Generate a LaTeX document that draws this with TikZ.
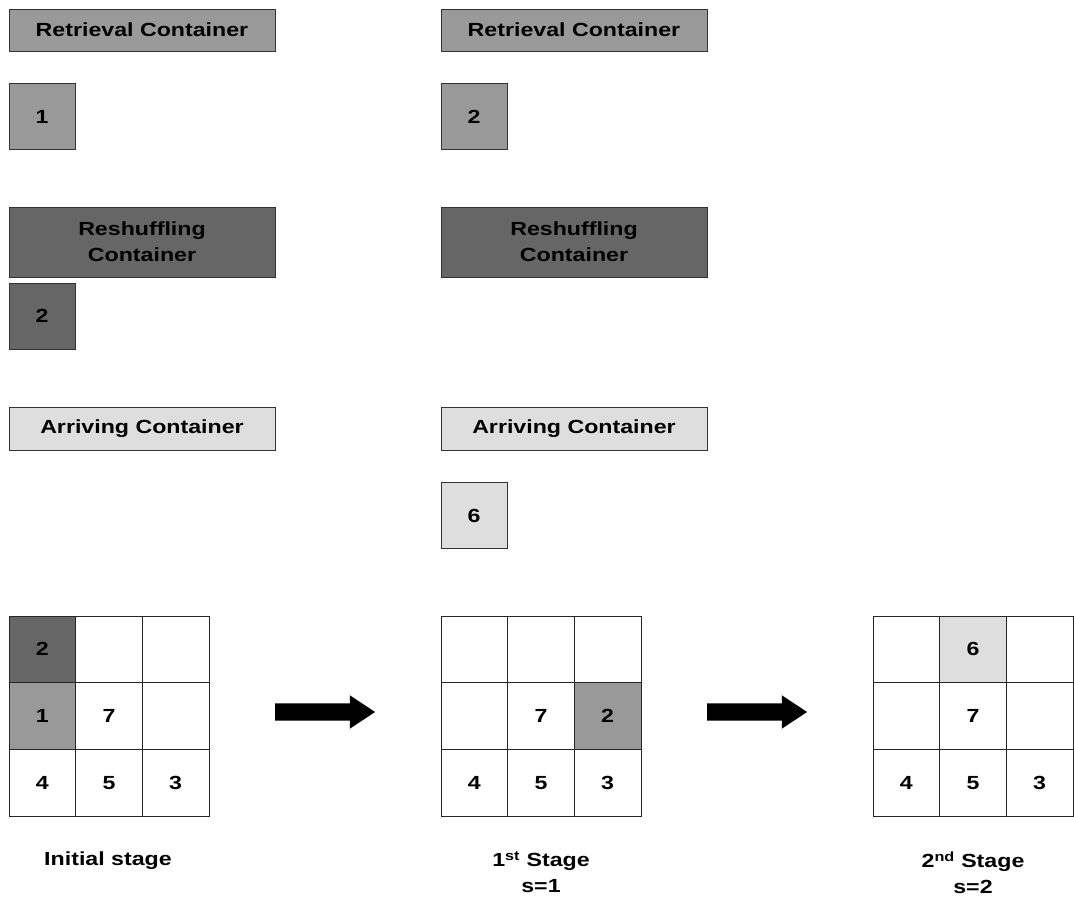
\documentclass[tikz,border=0pt]{standalone}
\usepackage{fontspec}
\setmainfont[FakeStretch=1.22]{Liberation Sans}
\usetikzlibrary{shapes.arrows}

\definecolor{retrgray}{gray}{0.6}
\definecolor{reshgray}{gray}{0.4}
\definecolor{arrvgray}{gray}{0.87}

\tikzset{
  labelbox/.style={draw=black!80, line width=0.8pt, minimum width=266pt, inner sep=0pt,
    align=center, font=\fontsize{19}{26}\selectfont\bfseries},
  cbox/.style={draw=black!80, line width=0.8pt, minimum size=66pt, inner sep=0pt,
    font=\fontsize{19}{20}\selectfont\bfseries},
  cell/.style={draw=black!85, line width=0.8pt, minimum size=66.67pt, inner sep=0pt,
    font=\fontsize{19}{20}\selectfont\bfseries},
  stagearrow/.style={single arrow, fill=black, minimum height=100pt, inner xsep=0pt,
    inner ysep=8.5pt, single arrow head extend=8pt, single arrow tip angle=67},
  stagetext/.style={align=center, font=\fontsize{19}{26}\selectfont\bfseries}
}

\begin{document}
\begin{tikzpicture}[x=1pt,y=-1pt]
  \useasboundingbox (0,0) rectangle (1074,904);

  % initial stage, containers
  \node[labelbox, fill=retrgray, minimum height=42pt] (retr0) at (142,30) {Retrieval Container};
  \node[cbox, fill=retrgray] (retrc0) at (42,116.5) {1};
  \node[labelbox, fill=reshgray, minimum height=70pt] (resh0) at (142,242) {Reshuffling\\Container};
  \node[cbox, fill=reshgray] (reshc0) at (42,316) {2};
  \node[labelbox, fill=arrvgray, minimum height=43pt] (arrv0) at (142,428.5) {Arriving Container};

  % first stage, containers
  \node[labelbox, fill=retrgray, minimum height=42pt] (retr1) at (574,30) {Retrieval Container};
  \node[cbox, fill=retrgray] (retrc1) at (474,116.5) {2};
  \node[labelbox, fill=reshgray, minimum height=70pt] (resh1) at (574,242) {Reshuffling\\Container};
  \node[labelbox, fill=arrvgray, minimum height=43pt] (arrv1) at (574,428.5) {Arriving Container};
  \node[cbox, fill=arrvgray] (arrvc1) at (474,515.5) {6};

  % bays
  \foreach \c/\r/\txt/\col in {0/0/2/reshgray, 1/0//white, 2/0//white,
                               0/1/1/retrgray, 1/1/7/white, 2/1//white,
                               0/2/4/white, 1/2/5/white, 2/2/3/white}
    \node[cell, fill=\col] (a\r\c) at (42.33+66.67*\c, 649.33+66.67*\r) {\txt};
  \foreach \c/\r/\txt/\col in {0/0//white, 1/0//white, 2/0//white,
                               0/1//white, 1/1/7/white, 2/1/2/retrgray,
                               0/2/4/white, 1/2/5/white, 2/2/3/white}
    \node[cell, fill=\col] (b\r\c) at (474.33+66.67*\c, 649.33+66.67*\r) {\txt};
  \foreach \c/\r/\txt/\col in {0/0//white, 1/0/6/arrvgray, 2/0//white,
                               0/1//white, 1/1/7/white, 2/1//white,
                               0/2/4/white, 1/2/5/white, 2/2/3/white}
    \node[cell, fill=\col] (c\r\c) at (906.33+66.67*\c, 649.33+66.67*\r) {\txt};

  % arrows between stages
  \node[stagearrow] (arr1) at (318.5,712) {};
  \node[stagearrow] (arr2) at (750.5,712) {};

  % stage names
  \node[stagetext] (st0) at (108,861) {Initial stage};
  \node[stagetext, anchor=north] (st1) at (541,848) {1\textsuperscript{st} Stage\\s=1};
  \node[stagetext, anchor=north] (st2) at (973,848) {2\textsuperscript{nd} Stage\\s=2};
\end{tikzpicture}
\end{document}
